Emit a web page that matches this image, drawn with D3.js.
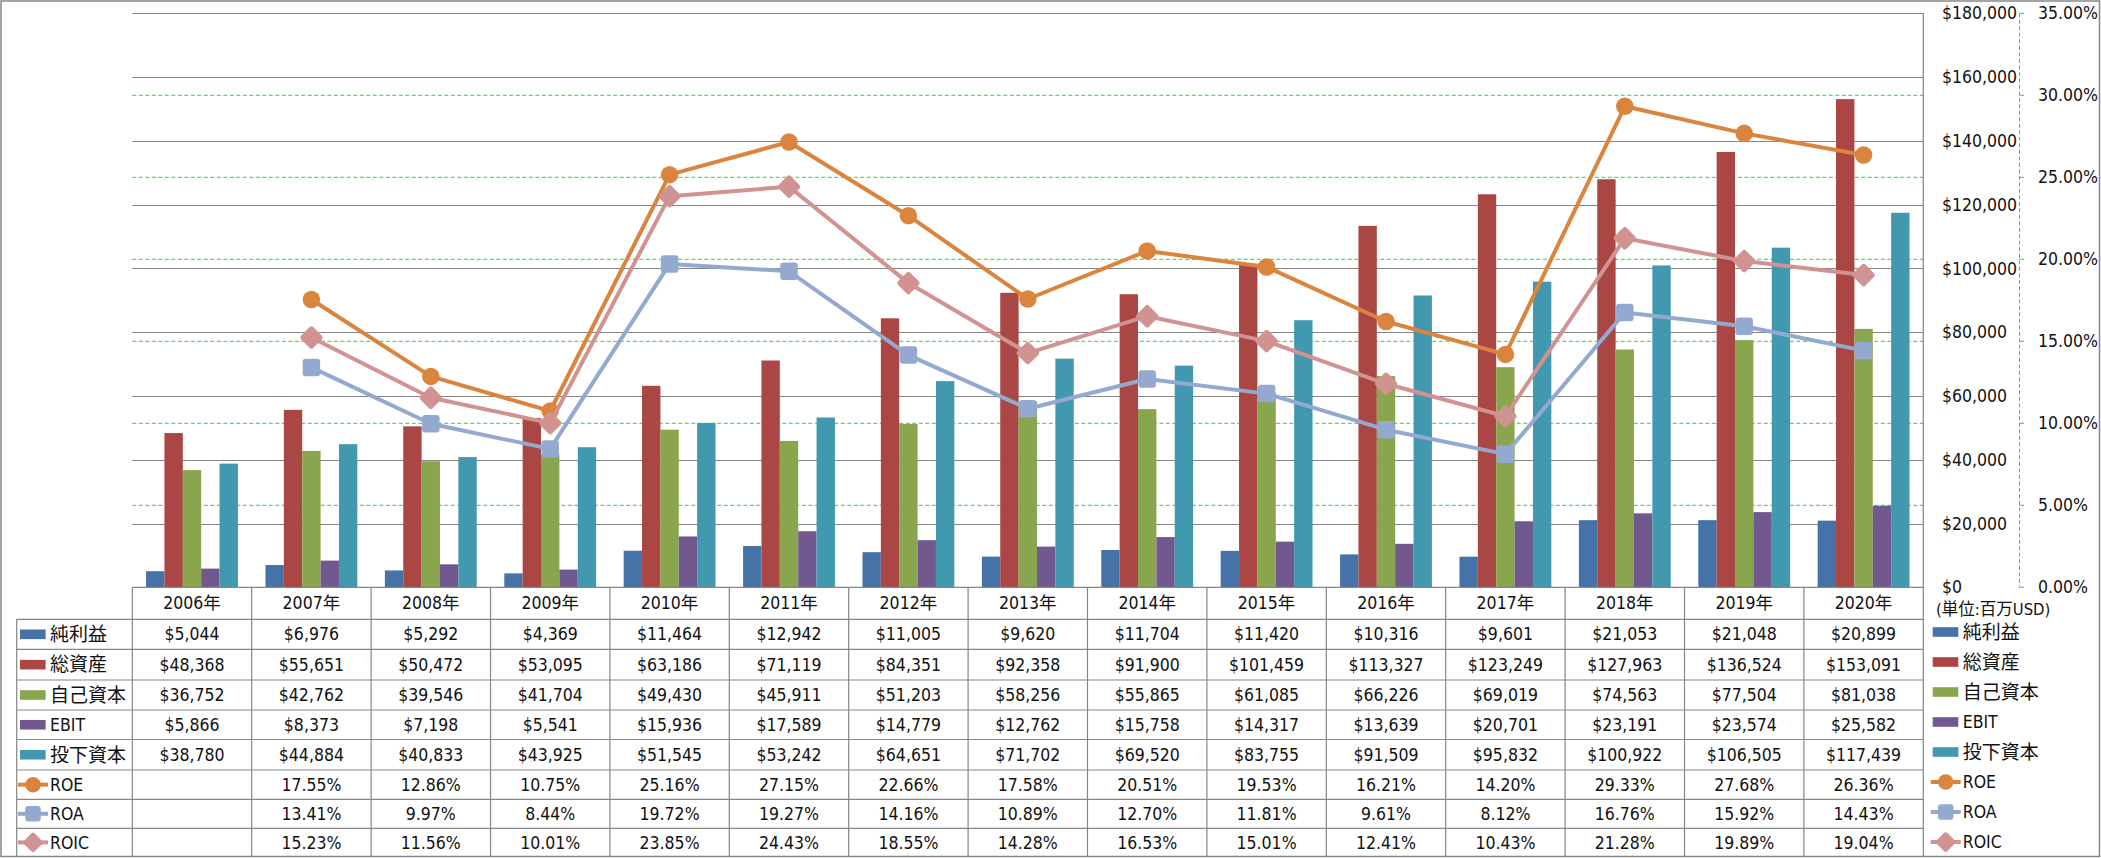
<!DOCTYPE html>
<html>
<head>
<meta charset="utf-8">
<script src="https://cdn.jsdelivr.net/npm/d3@7"></script>
<style>
  html, body { margin: 0; padding: 0; background: #fff; }
  svg { display: block; }
  text { font-family: 'DejaVu Sans Condensed', 'Noto Sans CJK JP', sans-serif; fill: #111; }
</style>
</head>
<body>
<svg id="chart" width="2101" height="858"></svg>
<script>
// ---------------- data ----------------
const years = ["2006年","2007年","2008年","2009年","2010年","2011年","2012年","2013年","2014年","2015年","2016年","2017年","2018年","2019年","2020年"];
const netIncome = [5044, 6976, 5292, 4369, 11464, 12942, 11005, 9620, 11704, 11420, 10316, 9601, 21053, 21048, 20899];
const totalAssets = [48368, 55651, 50472, 53095, 63186, 71119, 84351, 92358, 91900, 101459, 113327, 123249, 127963, 136524, 153091];
const equity = [36752, 42762, 39546, 41704, 49430, 45911, 51203, 58256, 55865, 61085, 66226, 69019, 74563, 77504, 81038];
const ebit = [5866, 8373, 7198, 5541, 15936, 17589, 14779, 12762, 15758, 14317, 13639, 20701, 23191, 23574, 25582];
const investedCapital = [38780, 44884, 40833, 43925, 51545, 53242, 64651, 71702, 69520, 83755, 91509, 95832, 100922, 106505, 117439];
const roe = [null, 17.55, 12.86, 10.75, 25.16, 27.15, 22.66, 17.58, 20.51, 19.53, 16.21, 14.20, 29.33, 27.68, 26.36];
const roa = [null, 13.41, 9.97, 8.44, 19.72, 19.27, 14.16, 10.89, 12.70, 11.81, 9.61, 8.12, 16.76, 15.92, 14.43];
const roic = [null, 15.23, 11.56, 10.01, 23.85, 24.43, 18.55, 14.28, 16.53, 15.01, 12.41, 10.43, 21.28, 19.89, 19.04];
const primaryTicks = [0, 20000, 40000, 60000, 80000, 100000, 120000, 140000, 160000, 180000];
const secondaryTicks = [0, 5, 10, 15, 20, 25, 30, 35];
const unitLabel = "(単位:百万USD)";

const barSeries = [
  { name: "純利益", values: netIncome, color: "#4572A7" },
  { name: "総資産", values: totalAssets, color: "#AA4643" },
  { name: "自己資本", values: equity, color: "#89A54E" },
  { name: "EBIT", values: ebit, color: "#71588F" },
  { name: "投下資本", values: investedCapital, color: "#4198AF" }
];
const lineSeries = [
  { name: "ROE", values: roe, color: "#DB843D", marker: "circle" },
  { name: "ROA", values: roa, color: "#93A9CF", marker: "square" },
  { name: "ROIC", values: roic, color: "#D19392", marker: "diamond" }
];

// ---------------- layout ----------------
const W = 2101, H = 858;
const plotL = 132.3, plotR = 1923.3, plotT = 13.3, plotB = 587.3;
const rowEdges = [587.3, 619.3, 649.3, 680, 710, 739.5, 770, 799.3, 828.3, 856.5];
const gridGray = "#868686";
const gridGreen = "#1EE01E";

const svg = d3.select("#chart");

const x = d3.scaleBand().domain(years).range([plotL, plotR]).paddingInner(0).paddingOuter(0);
const xs = d3.scaleBand().domain(barSeries.map(d => d.name)).range([0, x.bandwidth()]).paddingInner(0).paddingOuter(0.75);
const y = d3.scaleLinear().domain([0, 180000]).range([plotB, plotT]);
const y2 = d3.scaleLinear().domain([0, 35]).range([plotB, plotT]);

// outer border
svg.append("rect").attr("x", 1).attr("y", 1).attr("width", W - 2.5).attr("height", H - 2.5)
  .attr("fill", "#fff").attr("stroke", gridGray).attr("stroke-width", 1.5);

// green dashed gridlines (secondary)
svg.append("g").selectAll("line").data(secondaryTicks.filter(t => t > 0 && t < 35)).join("line")
  .attr("x1", plotL).attr("x2", plotR)
  .attr("y1", d => y2(d)).attr("y2", d => y2(d))
  .attr("stroke", gridGreen).attr("stroke-width", 1).attr("stroke-dasharray", "4,2.5");

// gray gridlines (primary)
svg.append("g").selectAll("line").data(primaryTicks.filter(t => t > 0)).join("line")
  .attr("x1", plotL).attr("x2", plotR)
  .attr("y1", d => Math.round(y(d)) + 0.5).attr("y2", d => Math.round(y(d)) + 0.5)
  .attr("stroke", gridGray).attr("stroke-width", 1.2);

// right vertical line of plot
svg.append("line").attr("x1", plotR).attr("x2", plotR).attr("y1", plotT).attr("y2", plotB)
  .attr("stroke", gridGray).attr("stroke-width", 1.2);

// bars
const gBars = svg.append("g");
barSeries.forEach(s => {
  gBars.append("g").selectAll("rect").data(s.values).join("rect")
    .attr("x", (d, i) => x(years[i]) + xs(s.name))
    .attr("width", xs.bandwidth())
    .attr("y", d => y(d))
    .attr("height", d => plotB - y(d))
    .attr("fill", s.color);
});

// marker drawing helper
function drawMarker(g, type, cx, cy, color, size) {
  if (type === "circle") {
    g.append("circle").attr("cx", cx).attr("cy", cy).attr("r", size / 2).attr("fill", color);
  } else if (type === "square") {
    g.append("rect").attr("x", cx - size / 2).attr("y", cy - size / 2).attr("width", size).attr("height", size)
      .attr("rx", 3).attr("fill", color);
  } else {
    const s = size * 0.72;
    g.append("rect").attr("x", -s / 2).attr("y", -s / 2).attr("width", s).attr("height", s).attr("rx", 2.5)
      .attr("fill", color).attr("transform", `translate(${cx},${cy}) rotate(45)`);
  }
}

// lines
const gLines = svg.append("g");
lineSeries.forEach(s => {
  const pts = s.values.map((v, i) => ({ v, i })).filter(d => d.v != null);
  const line = d3.line().x(d => x(years[d.i]) + x.bandwidth() / 2).y(d => y2(d.v));
  gLines.append("path").attr("d", line(pts)).attr("fill", "none")
    .attr("stroke", s.color).attr("stroke-width", 4).attr("stroke-linejoin", "round");
  const gm = gLines.append("g");
  pts.forEach(d => drawMarker(gm, s.marker, x(years[d.i]) + x.bandwidth() / 2, y2(d.v), s.color, s.marker === "diamond" ? 24 : 17.5));
});

// primary axis labels (placed on right)
const fmtMoney = d3.format("$,");
svg.append("g").selectAll("text").data(primaryTicks).join("text")
  .attr("x", 1942).attr("y", d => y(d)).attr("dy", "0.35em")
  .attr("font-size", 17.5).text(d => fmtMoney(d));

// secondary axis (green dashed)
svg.append("line").attr("x1", 2019.5).attr("x2", 2019.5).attr("y1", plotT).attr("y2", plotB)
  .attr("stroke", gridGreen).attr("stroke-width", 1).attr("stroke-dasharray", "4,2.5");
svg.append("g").selectAll("line").data(secondaryTicks).join("line")
  .attr("x1", 2019.5).attr("x2", 2024).attr("y1", d => y2(d)).attr("y2", d => y2(d))
  .attr("stroke", gridGreen).attr("stroke-width", 1);
svg.append("g").selectAll("text").data(secondaryTicks).join("text")
  .attr("x", 2038).attr("y", d => y2(d)).attr("dy", "0.35em")
  .attr("font-size", 17.5).text(d => d3.format(".2f")(d) + "%");

svg.append("text").attr("x", 1936).attr("y", 609).attr("dy", "0.35em")
  .attr("font-size", 16.5).attr("font-family", "'Noto Sans CJK JP', sans-serif").text(unitLabel);

// ---------------- data table ----------------
const gT = svg.append("g");
const tableLeft = 16.7;
// horizontal lines
rowEdges.forEach((ry, k) => {
  gT.append("line").attr("x1", k === 0 ? plotL : tableLeft).attr("x2", plotR)
    .attr("y1", ry).attr("y2", ry).attr("stroke", gridGray).attr("stroke-width", 1.2);
});
// vertical lines
gT.append("line").attr("x1", tableLeft).attr("x2", tableLeft).attr("y1", rowEdges[1]).attr("y2", rowEdges[9])
  .attr("stroke", gridGray).attr("stroke-width", 1.2);
years.forEach(yr => {
  gT.append("line").attr("x1", x(yr)).attr("x2", x(yr)).attr("y1", rowEdges[0]).attr("y2", rowEdges[9])
    .attr("stroke", gridGray).attr("stroke-width", 1.2);
});
gT.append("line").attr("x1", plotR).attr("x2", plotR).attr("y1", rowEdges[0]).attr("y2", rowEdges[9])
  .attr("stroke", gridGray).attr("stroke-width", 1.2);

// header row
gT.append("g").selectAll("text").data(years).join("text")
  .attr("x", d => x(d) + x.bandwidth() / 2).attr("y", (rowEdges[0] + rowEdges[1]) / 2).attr("dy", "0.35em")
  .attr("text-anchor", "middle").attr("font-size", 17.5).text(d => d);

const allRows = barSeries.map(s => ({ ...s, kind: "bar" })).concat(lineSeries.map(s => ({ ...s, kind: "line" })));
const isCJK = s => /[\u3000-\u9fff]/.test(s);

function legendItem(g, s, x0, cy) {
  if (s.kind === "bar") {
    g.append("rect").attr("x", x0).attr("y", cy - 4.8).attr("width", 25.6).attr("height", 9.6).attr("fill", s.color);
  } else {
    g.append("line").attr("x1", x0 - 2).attr("x2", x0 + 28).attr("y1", cy).attr("y2", cy)
      .attr("stroke", s.color).attr("stroke-width", 4);
    drawMarker(g, s.marker, x0 + 13, cy, s.color, s.marker === "diamond" ? 21 : 15.5);
  }
  g.append("text").attr("x", x0 + 30).attr("y", cy).attr("dy", "0.36em")
    .attr("font-size", isCJK(s.name) ? 19 : 17.5).text(s.name);
}

allRows.forEach((s, r) => {
  const cy = (rowEdges[r + 1] + rowEdges[r + 2]) / 2;
  legendItem(gT, s, 20, cy);
  gT.append("g").selectAll("text").data(s.values).join("text")
    .attr("x", (d, i) => x(years[i]) + x.bandwidth() / 2).attr("y", cy).attr("dy", "0.35em")
    .attr("text-anchor", "middle").attr("font-size", 17.5)
    .text(d => d == null ? "" : (s.kind === "bar" ? fmtMoney(d) : d3.format(".2f")(d) + "%"));
});

// right legend
const gL = svg.append("g");
allRows.forEach((s, r) => {
  legendItem(gL, s, 1932.7, 632 + r * 30);
});
</script>
</body>
</html>
